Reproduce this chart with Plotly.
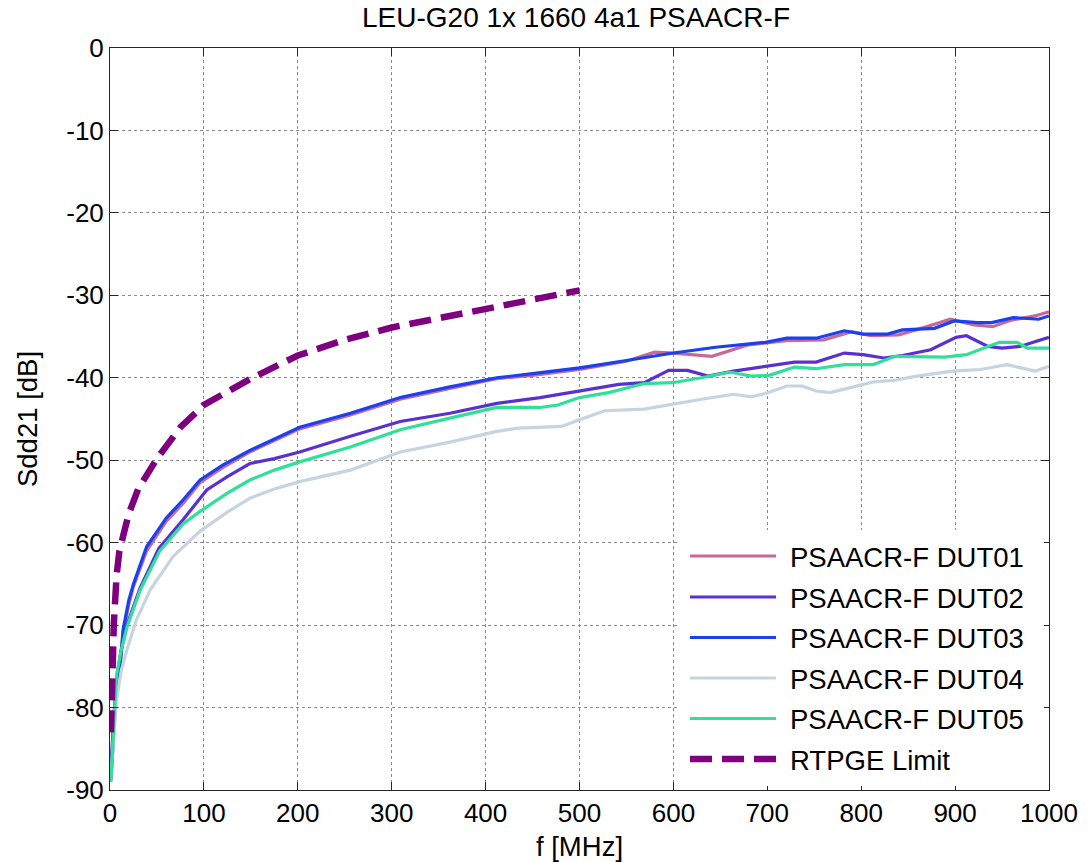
import plotly.graph_objects as go

# ---------------- data ----------------
names = ["PSAACR-F DUT01", "PSAACR-F DUT02", "PSAACR-F DUT03",
         "PSAACR-F DUT04", "PSAACR-F DUT05", "RTPGE Limit"]

f_dut01 = [0.5, 2, 4, 7, 10.6, 14, 20, 25, 39, 60, 78, 96, 120, 149, 175, 202, 256, 309, 362, 412,
           450, 500, 550, 580, 600, 641, 680, 720, 760, 790, 810, 840, 870, 895, 920, 940, 960, 985, 1000]
s_dut01 = [-89, -86, -81.5, -77.5, -75.3, -71, -67.5, -65.3, -61, -57.4, -55.2, -52.7, -50.9, -49.0,
           -47.6, -46.2, -44.5, -42.6, -41.3, -40.1, -39.7, -39.0, -38.0, -36.9, -37.0, -37.4, -36.0,
           -35.5, -35.4, -34.4, -34.9, -34.8, -33.8, -32.9, -33.6, -33.8, -33.0, -32.5, -32.0]

f_dut02 = [0.5, 2, 4, 7, 12, 18, 32, 52, 78, 103, 125, 149, 175, 202, 256, 309, 362, 412, 458, 500,
           542, 569, 595, 615, 637, 664, 698, 729, 752, 782, 802, 824, 844, 874, 901, 912, 935, 950,
           969, 1000]
s_dut02 = [-89, -87, -83, -76.5, -73, -70, -65.5, -60.7, -57.2, -53.6, -52.0, -50.4, -49.8, -49.0,
           -47.1, -45.3, -44.3, -43.1, -42.4, -41.6, -40.8, -40.6, -39.1, -39.1, -39.8, -39.2, -38.6,
           -38.1, -38.1, -37.0, -37.2, -37.6, -37.3, -36.6, -35.1, -34.9, -36.2, -36.4, -36.2, -35.1]

f_dut03 = [0.5, 2, 4, 7, 10.6, 14, 20, 25, 39, 60, 78, 96, 120, 149, 175, 202, 256, 309, 362, 412,
           450, 500, 550, 600, 645, 698, 721, 752, 782, 802, 828, 844, 878, 899, 924, 939, 962, 989, 1000]
s_dut03 = [-89, -86, -81, -77, -75, -70.5, -67, -65, -60.5, -57, -54.8, -52.4, -50.6, -48.8, -47.4,
           -46.0, -44.3, -42.4, -41.1, -40.0, -39.5, -38.8, -37.9, -37.0, -36.3, -35.7, -35.2, -35.2,
           -34.3, -34.7, -34.7, -34.2, -34.0, -33.1, -33.3, -33.3, -32.7, -32.9, -32.5]

f_dut04 = [0.5, 3, 7, 12, 18, 28, 43, 67, 96, 125, 149, 175, 202, 256, 309, 362, 412, 435, 481, 500,
           527, 569, 599, 630, 664, 683, 698, 721, 737, 752, 767, 790, 813, 836, 859, 897, 927, 955,
           969, 985, 1000]
s_dut04 = [-89, -85, -79, -75.5, -73, -69.4, -65.7, -61.7, -58.6, -56.3, -54.6, -53.5, -52.6, -51.2,
           -49.0, -47.8, -46.5, -46.1, -45.9, -45.1, -44.0, -43.8, -43.2, -42.6, -42.0, -42.3, -41.9,
           -41.0, -41.0, -41.6, -41.8, -41.1, -40.5, -40.3, -39.8, -39.2, -39.0, -38.4, -38.8, -39.2,
           -38.6]

f_dut05 = [0.5, 2, 4, 7, 12, 18, 32, 53, 78, 96, 125, 149, 175, 202, 256, 309, 362, 412, 458, 477,
           500, 531, 569, 599, 630, 660, 683, 702, 729, 752, 782, 813, 836, 889, 912, 947, 966, 977, 1000]
s_dut05 = [-89, -87, -82, -76, -73, -70.3, -65.8, -61, -57.7, -56.2, -54.0, -52.4, -51.2, -50.2,
           -48.4, -46.3, -44.9, -43.6, -43.6, -43.3, -42.4, -41.8, -40.7, -40.6, -40.0, -39.3, -39.8,
           -39.7, -38.7, -38.9, -38.4, -38.4, -37.4, -37.5, -37.2, -35.7, -35.7, -36.4, -36.4]

f_limit = [1, 2, 4, 7, 10, 20, 30, 50, 75, 100, 150, 200, 250, 300, 350, 400, 450, 500]
s_limit = [-83, -77, -70, -64, -61, -56.5, -53.5, -49.8, -46, -43.3, -40.1, -37.3, -35.4, -33.9,
           -32.8, -31.5, -30.5, -29.4]

x_ticks = list(range(0, 1001, 100))
x_ticklabels = [str(v) for v in x_ticks]
y_ticks = list(range(-90, 1, 10))
y_ticklabels = ["-90", "-80", "-70", "-60", "-50", "-40", "-30", "-20", "-10", "0"]

title_text = "LEU-G20 1x 1660 4a1 PSAACR-F"
x_label = "f [MHz]"
y_label = "Sdd21 [dB]"

# ---------------- styles ----------------
colors = ["#C8689A", "#5A30D2", "#1B40EE", "#C6D3E0", "#2EE098", "#7E007E"]
FONT = "Liberation Sans, Arial, sans-serif"
FS_TICK = 26
FS_TEXT = 27.5
FS_TITLE = 28

series = [(f_dut01, s_dut01), (f_dut02, s_dut02), (f_dut03, s_dut03),
          (f_dut04, s_dut04), (f_dut05, s_dut05)]

fig = go.Figure()
for (fx, sy), name, col in zip(series, names[:5], colors[:5]):
    fig.add_trace(go.Scatter(x=fx, y=sy, mode="lines", name=name,
                             line=dict(color=col, width=3.2), showlegend=False))
fig.add_trace(go.Scatter(x=f_limit, y=s_limit, mode="lines", name=names[5],
                         line=dict(color=colors[5], width=6.5, dash="22px,10px"),
                         showlegend=False))

# ---------------- legend drawn in paper coordinates ----------------
L, R, T, B = 110, 1049, 48, 790
W, H = R - L, B - T
px = lambda v: (v - L) / W
py = lambda v: (B - v) / H

shapes = [dict(type="rect", xref="paper", yref="paper", layer="above",
               x0=px(680), x1=px(1044), y0=py(786), y1=py(530),
               fillcolor="white", line=dict(width=0))]
annotations = []
rows = [556, 597, 637.5, 678, 718.5, 759]
for i, (name, col, ry) in enumerate(zip(names, colors, rows)):
    dash = "22px,10px" if i == 5 else "solid"
    wid = 6.5 if i == 5 else 3.2
    shapes.append(dict(type="line", xref="paper", yref="paper", layer="above",
                       x0=px(690), x1=px(776), y0=py(ry), y1=py(ry),
                       line=dict(color=col, width=wid, dash=dash)))
    annotations.append(dict(text=name, xref="paper", yref="paper",
                            x=px(788), y=py(ry + 1), xanchor="left", yanchor="middle",
                            showarrow=False, font=dict(size=FS_TEXT, color="black", family=FONT)))

axis_common = dict(showline=True, linecolor="#262626", linewidth=1, mirror="allticks",
                   ticks="inside", ticklen=8, tickcolor="#262626", automargin=False,
                   showgrid=True, gridcolor="#8a8a8a", griddash="dot", gridwidth=1,
                   zeroline=False, tickfont=dict(size=FS_TICK, color="black", family=FONT))

fig.update_layout(
    width=1089, height=862,
    margin=dict(l=L, r=1089 - R, t=T, b=862 - B),
    paper_bgcolor="white", plot_bgcolor="white",
    font=dict(family=FONT, size=FS_TEXT, color="black"),
    title=dict(text=title_text, x=576 / 1089, xanchor="center",
               y=1 - 17 / 862, yanchor="middle", yref="container",
               font=dict(size=FS_TITLE, color="black", family=FONT)),
    xaxis=dict(range=[0, 1000], tickvals=x_ticks, ticktext=x_ticklabels,
               title=dict(text=x_label, standoff=16, font=dict(size=FS_TEXT, color="black")),
               **axis_common),
    yaxis=dict(range=[-90, 0], tickvals=y_ticks, ticktext=y_ticklabels,
               title=dict(text=y_label, standoff=20, font=dict(size=FS_TEXT, color="black")),
               **axis_common),
    shapes=shapes, annotations=annotations, showlegend=False,
)

fig.write_html("out.html", config={"displayModeBar": False},
               post_script="document.body.style.margin='0px';")
